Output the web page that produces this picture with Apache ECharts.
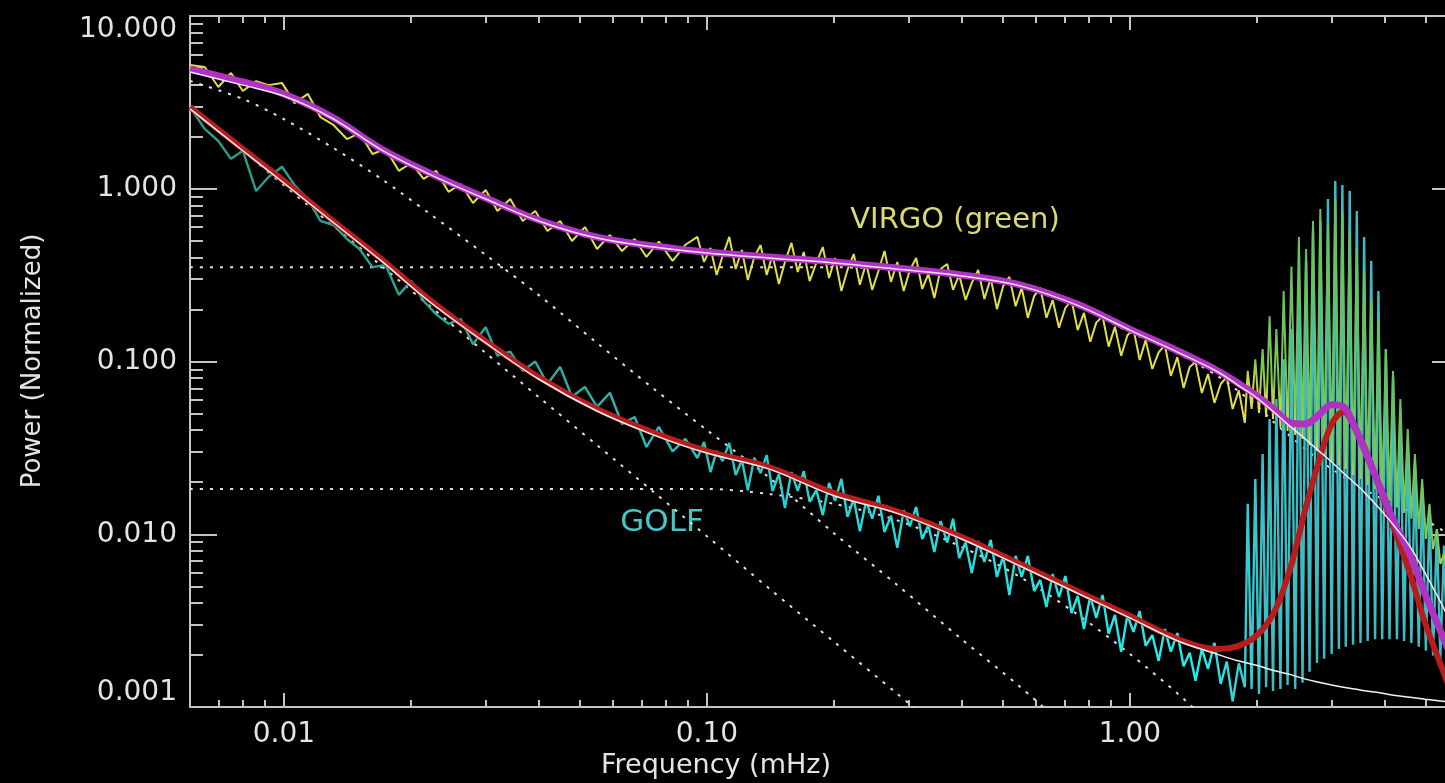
<!DOCTYPE html>
<html>
<head>
<meta charset="utf-8">
<title>VIRGO / GOLF power spectrum</title>
<script src="https://cdn.jsdelivr.net/npm/echarts@6/dist/echarts.min.js"></script>
<style>
  html, body { margin: 0; padding: 0; background: #000; overflow: hidden; }
  /* the plot frame runs past the right edge of the window (6 mHz sits at x = 1459) */
  #chart { width: 1470px; height: 783px; }
</style>
</head>
<body>
<div id="chart"></div>
<script>
// frequency grid of the measured spectra (mHz)
const freq = [
  0.006, 0.0065, 0.007, 0.0075, 0.008, 0.0086, 0.0092, 0.0099, 0.0106, 0.0114,
  0.0122, 0.0131, 0.0141, 0.0151, 0.0162, 0.0174, 0.0187, 0.02, 0.0214, 0.0229,
  0.0245, 0.0262, 0.028, 0.03, 0.032, 0.0343, 0.0367, 0.0393, 0.042, 0.045,
  0.048, 0.0515, 0.055, 0.059, 0.063, 0.0675, 0.072, 0.077, 0.083, 0.089,
  0.095, 0.0985, 0.102, 0.1055, 0.109, 0.113, 0.117, 0.121, 0.125, 0.1295,
  0.134, 0.1385, 0.143, 0.148, 0.153, 0.1585, 0.164, 0.1695, 0.175, 0.1815,
  0.188, 0.1945, 0.201, 0.208, 0.215, 0.2225, 0.23, 0.238, 0.246, 0.2545,
  0.263, 0.2725, 0.282, 0.292, 0.302, 0.3125, 0.323, 0.334, 0.345, 0.357,
  0.37, 0.382, 0.395, 0.409, 0.423, 0.438, 0.453, 0.469, 0.485, 0.502,
  0.519, 0.537, 0.555, 0.574, 0.594, 0.614, 0.635, 0.657, 0.68, 0.704,
  0.728, 0.753, 0.779, 0.806, 0.833, 0.862, 0.891, 0.922, 0.954, 0.987,
  1.02, 1.055, 1.09, 1.13, 1.17, 1.21, 1.25, 1.295, 1.34, 1.385,
  1.43, 1.48, 1.53, 1.585, 1.64, 1.695, 1.75, 1.81, 1.87,
  1.90, 1.94, 1.98, 2.02, 2.06, 2.10, 2.14, 2.18, 2.22, 2.27,
  2.31, 2.36, 2.41, 2.46, 2.51, 2.56, 2.61, 2.66, 2.71, 2.77,
  2.82, 2.88, 2.94, 3.00, 3.06, 3.12, 3.18, 3.24, 3.31, 3.37,
  3.44, 3.51, 3.58, 3.65, 3.72, 3.80, 3.87, 3.95, 4.03, 4.11,
  4.19, 4.28, 4.36, 4.45, 4.54, 4.63, 4.72, 4.82, 4.91, 5.01,
  5.11, 5.21, 5.32, 5.42, 5.53, 5.64, 5.76, 5.87, 6.00
];

// VIRGO spectrum (yellow / green)
const virgoPower = [
  5.21, 5.07, 3.88, 4.68, 3.68, 4.2, 3.98, 4.1, 3.13, 3.54,
  2.6, 2.34, 1.94, 2.1, 1.59, 1.70, 1.27, 1.41, 1.14, 1.27,
  0.96, 1.065, 0.827, 0.984, 0.743, 0.872, 0.651, 0.743, 0.57, 0.651,
  0.498, 0.60, 0.448, 0.54, 0.436, 0.512, 0.403, 0.494, 0.382, 0.474,
  0.526, 0.377, 0.454, 0.317, 0.409, 0.526, 0.343, 0.442, 0.296, 0.403,
  0.472, 0.317, 0.414, 0.281, 0.377, 0.486, 0.330, 0.430, 0.292, 0.372,
  0.460, 0.304, 0.397, 0.256, 0.339, 0.419, 0.278, 0.372, 0.260, 0.334,
  0.436, 0.289, 0.377, 0.256, 0.339, 0.397, 0.263, 0.321, 0.233, 0.343,
  0.367, 0.260, 0.317, 0.227, 0.285, 0.339, 0.230, 0.304, 0.201, 0.274,
  0.309, 0.209, 0.267, 0.179, 0.239, 0.267, 0.179, 0.227, 0.157, 0.204,
  0.227, 0.152, 0.191, 0.130, 0.168, 0.183, 0.122, 0.159, 0.108, 0.142,
  0.154, 0.102, 0.133, 0.0905, 0.113, 0.125, 0.0826, 0.106, 0.0703, 0.0930,
  0.0993, 0.0657, 0.0847, 0.0576, 0.0741, 0.0814, 0.0531, 0.0681, 0.0441,
  0.0882, 0.0531, 0.103, 0.0504, 0.118, 0.0477, 0.183, 0.0465, 0.154, 0.0418,
  0.256, 0.0396, 0.355, 0.0375, 0.526, 0.0356, 0.448, 0.0328, 0.651, 0.0303,
  0.763, 0.0287, 0.617, 0.0265, 0.872, 0.0251, 0.723, 0.0239, 0.570, 0.0220,
  0.448, 0.0209, 0.334, 0.0193, 0.230, 0.0183, 0.176, 0.0169, 0.118, 0.0156,
  0.0882, 0.0144, 0.0607, 0.0133, 0.0407, 0.0123, 0.0291, 0.0107, 0.0209, 0.00939,
  0.0150, 0.00822, 0.0107, 0.00673, 0.00769, 0.00566, 0.00629, 0.00482, 0.00422
];

// GOLF spectrum (cyan)
const golfPower = [
  2.97, 2.22, 1.89, 1.49, 1.66, 0.97, 1.17, 1.34, 1.05, 0.872,
  0.651, 0.617, 0.512, 0.448, 0.352, 0.362, 0.243, 0.293, 0.224, 0.188,
  0.165, 0.176, 0.126, 0.158, 0.108, 0.114, 0.0882, 0.10, 0.0741, 0.093,
  0.0625, 0.0713, 0.0546, 0.0659, 0.0435, 0.0477, 0.032, 0.0418, 0.0302, 0.0356,
  0.0276, 0.0342, 0.0229, 0.0303, 0.0265, 0.0338, 0.0220, 0.0269, 0.0180, 0.0277,
  0.0226, 0.0287, 0.0178, 0.0223, 0.0142, 0.0229, 0.0178, 0.0232, 0.0154, 0.0180,
  0.0129, 0.0198, 0.0156, 0.0209, 0.0126, 0.0160, 0.0104, 0.0156, 0.0123, 0.0167,
  0.0103, 0.0128, 0.00834, 0.0138, 0.0111, 0.0144, 0.00939, 0.0113, 0.00790, 0.0119,
  0.00895, 0.0123, 0.00729, 0.00895, 0.00597, 0.00912, 0.00691, 0.00927, 0.00566, 0.00749,
  0.00445, 0.00749, 0.00566, 0.00749, 0.00469, 0.00544, 0.00379, 0.00589, 0.00433, 0.00573,
  0.00350, 0.00439, 0.00283, 0.00439, 0.00328, 0.00445, 0.00265, 0.00341, 0.00209, 0.00341,
  0.00272, 0.00359, 0.00226, 0.00261, 0.00185, 0.00283, 0.00209, 0.00268, 0.00172, 0.00206,
  0.00142, 0.00217, 0.00166, 0.00235, 0.00136, 0.00183, 0.00108, 0.00179, 0.00130,
  0.015, 0.00127, 0.0209, 0.00119, 0.0291, 0.0013, 0.0465, 0.00124, 0.0607, 0.00127,
  0.103, 0.00134, 0.154, 0.00127, 0.263, 0.00138, 0.382, 0.0016, 0.57, 0.0018,
  0.651, 0.0019, 0.872, 0.00203, 1.11, 0.00217, 1.05, 0.00223, 0.97, 0.00229,
  0.743, 0.00235, 0.526, 0.00241, 0.382, 0.00247, 0.256, 0.00247, 0.118, 0.00247,
  0.0813, 0.00247, 0.0531, 0.00241, 0.0356, 0.00235, 0.0255, 0.00223, 0.0183, 0.00212,
  0.0137, 0.00199, 0.0107, 0.0019, 0.0086, 0.00177, 0.00719, 0.0017, 0.00589
];

// grid of the fitted model curves (mHz)
const fitFreq = [
  0.006, 0.008, 0.01, 0.013, 0.017, 0.022, 0.03, 0.04, 0.055, 0.075,
  0.1, 0.14, 0.2, 0.28, 0.4, 0.55, 0.75, 1.0, 1.3, 1.6,
  1.8, 2.0, 2.2, 2.4, 2.6, 2.8, 3.0, 3.2, 3.4, 3.6,
  3.9, 4.2, 4.6, 5.0, 5.5, 6.0
];

const virgoFit = [
  4.93, 4.15, 3.54, 2.60, 1.70, 1.24, 0.884, 0.659, 0.525, 0.466,
  0.430, 0.403, 0.377, 0.348, 0.317, 0.278, 0.215, 0.154, 0.115, 0.0893,
  0.0751, 0.0630, 0.0524, 0.0441, 0.0435, 0.0491, 0.0561, 0.0546, 0.0418, 0.0303,
  0.0188, 0.0120, 0.00758, 0.00445, 0.00254, 0.00155
];

const virgoBackground = [
  4.74, 3.98, 3.44, 2.56, 1.68, 1.22, 0.872, 0.651, 0.518, 0.460,
  0.425, 0.397, 0.372, 0.343, 0.313, 0.274, 0.212, 0.152, 0.113, 0.0881,
  0.0731, 0.0614, 0.0504, 0.0418, 0.0356, 0.0303, 0.0262, 0.0226, 0.0198, 0.0173,
  0.0140, 0.0113, 0.00845, 0.00589, 0.00380, 0.00247
];

const golfFit = [
  2.97, 1.70, 1.11, 0.659, 0.392, 0.230, 0.131, 0.0814, 0.0531, 0.0386,
  0.0303, 0.0245, 0.0173, 0.0136, 0.00964, 0.00673, 0.00469, 0.00336, 0.00247, 0.00217,
  0.00225, 0.00261, 0.00359, 0.00646, 0.0140, 0.0266, 0.0435, 0.0511, 0.0418, 0.0311,
  0.0183, 0.0110, 0.00589, 0.00302, 0.00162, 0.000911
];

const golfBackground = [
  2.90, 1.66, 1.08, 0.646, 0.382, 0.224, 0.128, 0.0792, 0.0517, 0.0375,
  0.0295, 0.0239, 0.0167, 0.0133, 0.00939, 0.00655, 0.00457, 0.00328, 0.00241, 0.00203,
  0.00185, 0.00174, 0.00162, 0.00154, 0.00145, 0.00139, 0.00134, 0.00130, 0.00127, 0.00124,
  0.00121, 0.00117, 0.00114, 0.00111, 0.00108, 0.00106
];

// background components (dotted)
const golfActivity = [
  2.97, 1.66, 1.05, 0.617, 0.358, 0.212, 0.112, 0.0624, 0.0328, 0.0175,
  0.00974, 0.00488, 0.00238, 0.00121, 0.000584, null, null, null, null, null,
  null, null, null, null, null, null, null, null, null, null,
  null, null, null, null, null, null
];

const virgoActivity = [
  4.21, 3.31, 2.53, 1.74, 1.14, 0.724, 0.414, 0.243, 0.128, 0.0693,
  0.0401, 0.0214, 0.0101, 0.00515, 0.00247, 0.00131, 0.000667, null, null, null,
  null, null, null, null, null, null, null, null, null, null,
  null, null, null, null, null, null
];

const golfGranulation = [
  0.0183, 0.0183, 0.0183, 0.0183, 0.0183, 0.0183, 0.0183, 0.0183, 0.0183, 0.0183,
  0.0183, 0.0171, 0.0150, 0.0121, 0.00846, 0.00566, 0.00345, 0.00203, 0.00119, 0.000744,
  null, null, null, null, null, null, null, null, null, null,
  null, null, null, null, null, null
];

const virgoGranulation = [
  0.351, 0.351, 0.351, 0.351, 0.351, 0.351, 0.351, 0.351, 0.351, 0.351,
  0.351, 0.351, 0.351, 0.343, 0.313, 0.270, 0.209, 0.148, 0.111, 0.0834,
  0.0677, 0.0551, 0.0441, 0.0367, 0.0311, 0.0269, 0.0239, 0.0215, 0.0195, 0.0180,
  0.0163, 0.0148, 0.0135, 0.0121, 0.0105, 0.00939
];

// axis ticks
const xMajor = [0.01, 0.1, 1];
const xMinor = [0.007, 0.008, 0.009, 0.02, 0.03, 0.04, 0.05, 0.06, 0.07, 0.08, 0.09,
  0.2, 0.3, 0.4, 0.5, 0.6, 0.7, 0.8, 0.9, 2, 3, 4, 5];
const yMajor = [0.001, 0.01, 0.1, 1, 10];
const yMinor = [0.002, 0.003, 0.004, 0.005, 0.006, 0.007, 0.008, 0.009,
  0.02, 0.03, 0.04, 0.05, 0.06, 0.07, 0.08, 0.09,
  0.2, 0.3, 0.4, 0.5, 0.6, 0.7, 0.8, 0.9,
  2, 3, 4, 5, 6, 7, 8, 9];

const axisColor = '#c4c4c4';
const labelStyle = { color: '#e4e4e4', fontFamily: 'DejaVu Sans', fontSize: 28 };

const pairs = (xs, ys) => xs.map((x, i) => [x, ys[i]]).filter(p => p[1] != null);

const chart = echarts.init(document.getElementById('chart'));

const xAxisBase = { type: 'log', logBase: 10, min: 0.006, max: 6, splitLine: { show: false } };
const yAxisBase = { type: 'log', logBase: 10, min: 0.001, max: 10, splitLine: { show: false } };

// major and minor ticks live on separate, overlapping axes
const tickAxis = (base, position, values, length, withLine, label) => Object.assign({}, base, {
  position: position,
  axisLine: { show: withLine, onZero: false, lineStyle: { color: axisColor, width: 2 } },
  axisTick: { show: true, inside: true, length: length, customValues: values,
    lineStyle: { color: axisColor, width: 2 } },
  axisLabel: label || { show: false }
});

const option = {
  backgroundColor: '#000',
  animation: false,
  grid: { left: 190, top: 16, right: 11, bottom: 76, outerBoundsMode: 'none' },
  xAxis: [
    tickAxis(xAxisBase, 'bottom', xMajor, 14, true, Object.assign({
      show: true, customValues: xMajor, margin: 14,
      formatter: v => Number(v).toFixed(2)
    }, labelStyle)),
    tickAxis(xAxisBase, 'bottom', xMinor, 7, false),
    tickAxis(xAxisBase, 'top', xMajor, 14, true),
    tickAxis(xAxisBase, 'top', xMinor, 7, false)
  ],
  yAxis: [
    tickAxis(yAxisBase, 'left', yMajor, 27, true, Object.assign({
      show: true, customValues: yMajor, margin: 13,
      verticalAlignMinLabel: 'bottom', verticalAlignMaxLabel: 'top',
      formatter: v => Number(v).toFixed(3)
    }, labelStyle)),
    tickAxis(yAxisBase, 'left', yMinor, 13, false),
    tickAxis(yAxisBase, 'right', yMajor, 27, true),
    tickAxis(yAxisBase, 'right', yMinor, 13, false)
  ],
  series: [
    ...[golfActivity, virgoActivity, golfGranulation, virgoGranulation].map(vals => ({
      type: 'line',
      symbol: 'none',
      smooth: 0.3,
      data: pairs(fitFreq, vals),
      lineStyle: { color: '#e0e0e0', width: 2, type: [3, 7] }
    })),
    {
      name: 'GOLF',
      type: 'line',
      symbol: 'none',
      data: pairs(freq, golfPower),
      lineStyle: {
        width: 2.4,
        color: new echarts.graphic.LinearGradient(190, 0, 1459, 0, [
          { offset: 0, color: '#2a9c8a' },
          { offset: 0.3, color: '#2aaea4' },
          { offset: 0.5, color: '#26d8d8' },
          { offset: 0.8, color: '#22eeee' },
          { offset: 0.85, color: '#3cbcc4' },
          { offset: 1, color: '#3cbcc4' }
        ], true)
      }
    },
    {
      name: 'VIRGO',
      type: 'line',
      symbol: 'none',
      data: pairs(freq, virgoPower),
      lineStyle: {
        width: 2,
        // yellow along the continuum, green for the p-mode peaks above it
        color: new echarts.graphic.LinearGradient(1300, 440, 1360, 380, [
          { offset: 0, color: '#e2de48' },
          { offset: 0.3, color: '#7cc850' },
          { offset: 1, color: '#6cc060' }
        ], true)
      }
    },
    {
      name: 'GOLF fit',
      type: 'line',
      symbol: 'none',
      smooth: 0.35,
      data: pairs(fitFreq, golfFit),
      lineStyle: { color: '#b81c1c', width: 6 }
    },
    {
      name: 'GOLF background',
      type: 'line',
      symbol: 'none',
      smooth: 0.35,
      data: pairs(fitFreq, golfBackground),
      lineStyle: { color: '#f2f2f2', width: 1.5 }
    },
    {
      name: 'VIRGO fit',
      type: 'line',
      symbol: 'none',
      smooth: 0.35,
      data: pairs(fitFreq, virgoFit),
      lineStyle: { color: '#b032c2', width: 7 }
    },
    {
      name: 'VIRGO background',
      type: 'line',
      symbol: 'none',
      smooth: 0.35,
      data: pairs(fitFreq, virgoBackground),
      lineStyle: { color: '#f6e6f6', width: 1.5 }
    }
  ],
  graphic: [
    {
      type: 'text', x: 716, y: 766,
      style: { text: 'Frequency (mHz)', fill: '#e4e4e4', font: '27px "DejaVu Sans"',
        align: 'center', verticalAlign: 'middle', textAlign: 'center', textVerticalAlign: 'middle' }
    },
    {
      type: 'text', x: 33, y: 361, rotation: Math.PI / 2,
      style: { text: 'Power (Normalized)', fill: '#e4e4e4', font: '26px "DejaVu Sans"',
        align: 'center', verticalAlign: 'middle', textAlign: 'center', textVerticalAlign: 'middle' }
    },
    {
      type: 'text', x: 955, y: 220,
      style: { text: 'VIRGO (green)', fill: '#dcd874', font: '29px "DejaVu Sans"',
        align: 'center', verticalAlign: 'middle', textAlign: 'center', textVerticalAlign: 'middle' }
    },
    {
      type: 'text', x: 662, y: 523,
      style: { text: 'GOLF', fill: '#46c6c6', font: '31px "DejaVu Sans"',
        align: 'center', verticalAlign: 'middle', textAlign: 'center', textVerticalAlign: 'middle' }
    }
  ]
};

chart.setOption(option);
</script>
</body>
</html>
